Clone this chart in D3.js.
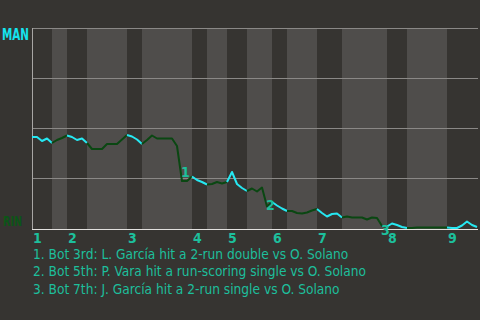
<!DOCTYPE html>
<html>
<head>
<meta charset="utf-8">
<script src="https://cdn.jsdelivr.net/npm/d3@7"></script>
<style>
  html, body { margin: 0; padding: 0; background: #363431; }
  svg { display: block; }
</style>
</head>
<body>
<svg id="chart" width="480" height="320"></svg>
<script>
// ---- data ----
const teams = ["MAN", "RIN"];
const inningLabels = ["1", "2", "3", "4", "5", "6", "7", "8", "9"];
// event index at which each half-inning starts (top 1, bot 1, top 2, ...)
const halfInningStarts = [0, 4, 7, 11, 19, 22, 32, 35, 39, 43, 48, 51, 57, 62, 71, 75, 83];
// MAN win probability after each event
const winProb = [
  0.455, 0.455, 0.435, 0.4475, 0.425,
  0.44, 0.45, 0.4625,
  0.455, 0.44, 0.4475, 0.425,
  0.395, 0.395, 0.395, 0.42, 0.42, 0.42, 0.4425, 0.465,
  0.4575, 0.4425, 0.42,
  0.44, 0.4625, 0.4475, 0.4475, 0.4475, 0.4475, 0.41, 0.235, 0.235, 0.2575,
  0.24, 0.23, 0.2175,
  0.22, 0.23, 0.2225, 0.23,
  0.28, 0.22, 0.20, 0.185,
  0.1975, 0.1825, 0.2025, 0.1075, 0.13,
  0.1125, 0.0975, 0.085,
  0.085, 0.075, 0.0725, 0.0775, 0.0875, 0.095,
  0.075, 0.0575, 0.07, 0.0725, 0.0525,
  0.0575, 0.0525, 0.0525, 0.0525, 0.0425, 0.0525, 0.05, 0.01, 0.0075,
  0.0225, 0.015, 0.005, 0.0,
  0.0, 0.0025, 0.0025, 0.0025, 0.0025, 0.0025, 0.0025, 0.0025,
  0.0, 0.0, 0.0125, 0.0325, 0.015, 0.005
];
const gridValues = [0.25, 0.5, 0.75, 1.0];
const keyEventIndex = [30, 47, 70];
const keyEventText = [
  "Bot 3rd: L. García hit a 2-run double vs O. Solano",
  "Bot 5th: P. Vara hit a run-scoring single vs O. Solano",
  "Bot 7th: J. García hit a 2-run single vs O. Solano"
];

// ---- styles ----
const BG = "#363431", BAND = "#4f4d4b", GRID = "#8a8886";
const TOP_COLOR = "#26e8f2", BOT_COLOR = "#0a4712", NOTE = "#1dbf9c";
const FONT = "'Liberation Sans Narrow', 'DejaVu Sans Condensed', Roboto, sans-serif";

const svg = d3.select("#chart");
const W = 480, H = 320;
const mLeft = 32, mRight = 477, mTop = 28, mBottom = 228;
const nEvents = winProb.length - 1;

const x = d3.scaleLinear().domain([0, nEvents]).range([mLeft, mRight]);
const y = d3.scaleLinear().domain([0, 1]).range([mBottom, mTop]);

svg.append("rect").attr("width", W).attr("height", H).attr("fill", BG);

// half-inning segments
const halves = halfInningStarts.map((s, k) => ({
  start: s,
  end: k + 1 < halfInningStarts.length ? halfInningStarts[k + 1] : nEvents,
  isBottom: k % 2 === 1,
  inning: Math.floor(k / 2)
}));

// bottom-half bands
svg.append("g").selectAll("rect")
  .data(halves.filter(h => h.isBottom))
  .join("rect")
  .attr("x", d => x(d.start))
  .attr("y", mTop)
  .attr("width", d => x(d.end) - x(d.start))
  .attr("height", 230 - mTop)
  .attr("fill", BAND);

// grid lines
svg.append("g").selectAll("line")
  .data(gridValues)
  .join("line")
  .attr("x1", mLeft).attr("x2", mRight + 1)
  .attr("y1", d => Math.round(y(d)) + 0.5)
  .attr("y2", d => Math.round(y(d)) + 0.5)
  .attr("stroke", GRID).attr("stroke-width", 1);

// axes lines
svg.append("line")
  .attr("x1", mLeft + 0.5).attr("x2", mLeft + 0.5)
  .attr("y1", mTop).attr("y2", 230)
  .attr("stroke", "#a8a6a4").attr("stroke-width", 1);
svg.append("line")
  .attr("x1", mLeft).attr("x2", mRight + 1)
  .attr("y1", 229.5).attr("y2", 229.5)
  .attr("stroke", "#e2e0de").attr("stroke-width", 1);

// win probability line, coloured per half inning
const line = d3.line().x(i => x(i)).y(i => y(winProb[i]));
svg.append("g").selectAll("path")
  .data(halves)
  .join("path")
  .attr("d", d => line(d3.range(d.start, d.end + 1)))
  .attr("fill", "none")
  .attr("stroke", d => d.isBottom ? BOT_COLOR : TOP_COLOR)
  .attr("stroke-width", 2)
  .attr("stroke-linejoin", "round");

// team labels
svg.append("text")
  .attr("x", 2).attr("y", 40)
  .attr("font-family", FONT).attr("font-weight", "bold").attr("font-size", 15)
  .attr("textLength", 27).attr("lengthAdjust", "spacingAndGlyphs")
  .attr("fill", "#14e4ee").text(teams[0]);
svg.append("text")
  .attr("x", 3).attr("y", 225.5)
  .attr("font-family", FONT).attr("font-weight", "bold").attr("font-size", 14)
  .attr("textLength", 19).attr("lengthAdjust", "spacingAndGlyphs")
  .attr("fill", "#0c5517").text(teams[1]);

// inning labels
svg.append("g").selectAll("text")
  .data(halves.filter(h => !h.isBottom))
  .join("text")
  .attr("x", d => x(d.start) + 1)
  .attr("y", 243)
  .attr("font-family", FONT).attr("font-weight", "bold").attr("font-size", 14)
  .attr("fill", NOTE)
  .text(d => inningLabels[d.inning]);

// key event markers (at middle of the decisive segment)
svg.append("g").selectAll("text")
  .data(keyEventIndex)
  .join("text")
  .attr("x", i => (x(i - 1) + x(i)) / 2 + 6)
  .attr("y", i => (y(winProb[i - 1]) + y(winProb[i])) / 2 + 13)
  .attr("text-anchor", "middle")
  .attr("font-family", FONT).attr("font-weight", "bold").attr("font-size", 14)
  .attr("fill", NOTE)
  .text((i, k) => String(k + 1));

// key event notes
svg.append("g").selectAll("text")
  .data(keyEventText)
  .join("text")
  .attr("x", 33)
  .attr("y", (d, k) => 259 + k * 17.4)
  .attr("font-family", FONT).attr("font-size", 13.6)
  .attr("fill", NOTE)
  .text((d, k) => (k + 1) + ". " + d);
</script>
</body>
</html>
